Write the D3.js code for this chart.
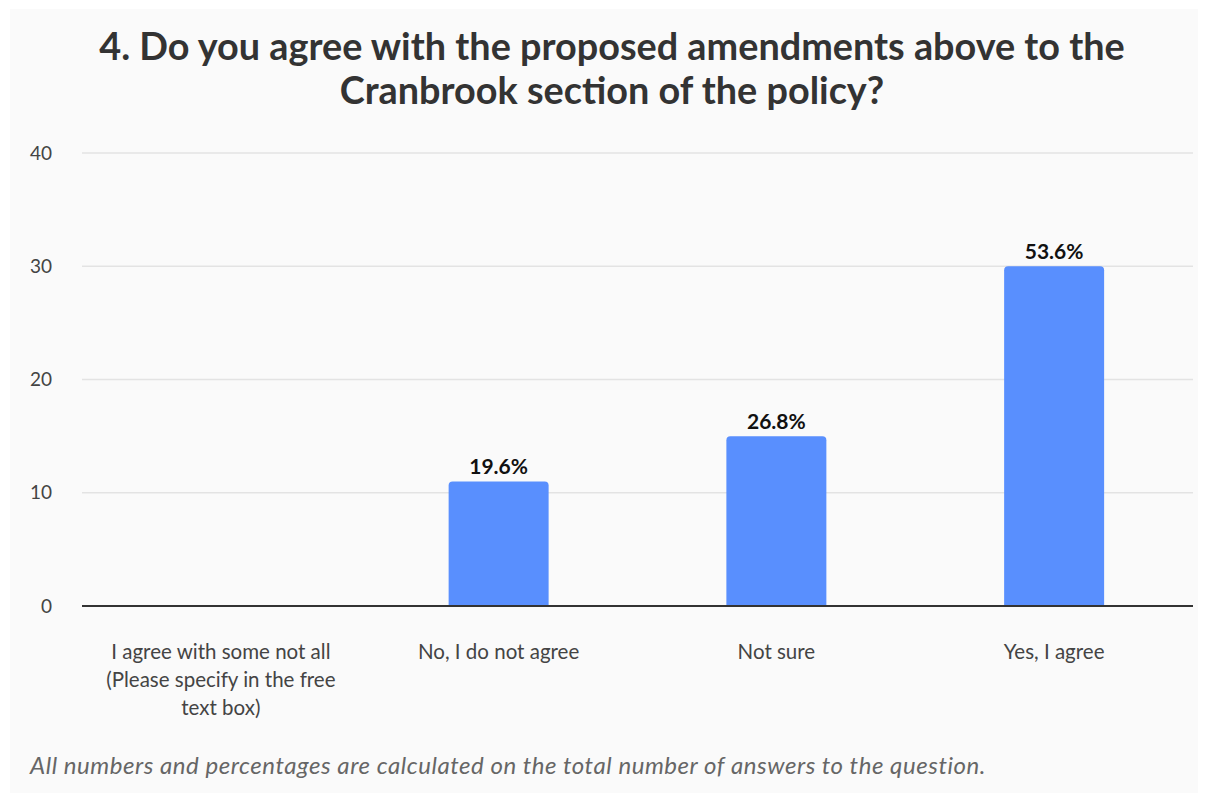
<!DOCTYPE html>
<html>
<head>
<meta charset="utf-8">
<script src="https://cdn.jsdelivr.net/npm/d3@7"></script>
<style>
  body { margin: 0; background: #ffffff; }
  svg { display: block; }
</style>
</head>
<body>
<div id="chart"></div>
<script>
// answers to the question
let categories = [
    "I agree with some not all (Please specify in the free text box)",
    "No, I do not agree",
    "Not sure",
    "Yes, I agree"
];
let counts = [0, 11, 15, 30];
let percentLabels = ["", "19.6%", "26.8%", "53.6%"];
let yTicks = [0, 10, 20, 30, 40];

let titleLines = [
    "4. Do you agree with the proposed amendments above to the",
    "Cranbrook section of the policy?"
];
let footnote = "All numbers and percentages are calculated on the total number of answers to the question.";

let width = 1208, height = 802;
let margin = {top: 153, right: 15, bottom: 196, left: 82};
let font = "Lato, 'Noto Sans', sans-serif";

let svg = d3.select("#chart").append("svg")
    .attr("width", width)
    .attr("height", height);

// grey panel behind everything
svg.append("rect")
    .attr("x", 10).attr("y", 9)
    .attr("width", 1188).attr("height", 784)
    .attr("fill", "#fafafa");

// Title
svg.append("text")
    .attr("text-anchor", "middle")
    .attr("font-family", font)
    .attr("font-weight", "bold")
    .attr("font-size", 37.8)
    .attr("fill", "#333333")
    .selectAll("tspan")
    .data(titleLines)
    .join("tspan")
    .attr("x", 612)
    .attr("y", (d, i) => 60 + i * 44)
    .text(d => d);

let x = d3.scaleBand()
    .domain(categories)
    .range([margin.left, width - margin.right])
    .paddingInner(0.64)
    .paddingOuter(0.32);

let y = d3.scaleLinear()
    .domain([0, 40])
    .range([height - margin.bottom, margin.top]);

// gridlines
svg.append("g")
    .selectAll("line")
    .data(yTicks.filter(d => d > 0))
    .join("line")
    .attr("x1", margin.left)
    .attr("x2", width - margin.right)
    .attr("y1", d => y(d))
    .attr("y2", d => y(d))
    .attr("stroke", "#e3e3e3")
    .attr("stroke-width", 1.5);

// y axis labels
let yAxis = svg.append("g")
    .attr("transform", "translate(" + margin.left + ",0)")
    .call(d3.axisLeft(y).tickValues(yTicks).tickSize(0).tickPadding(30));
yAxis.select(".domain").remove();
yAxis.selectAll("text")
    .attr("font-family", font)
    .attr("font-size", 19)
    .attr("fill", "#444444");

// bars with rounded tops
let r = 4;
function barPath(d, i)
{
    let x0 = x(categories[i]), w = x.bandwidth();
    let y0 = y(0), y1 = y(d);
    if (y0 - y1 < r) { return ""; }
    return "M" + x0 + "," + y0 +
        "V" + (y1 + r) +
        "Q" + x0 + "," + y1 + " " + (x0 + r) + "," + y1 +
        "H" + (x0 + w - r) +
        "Q" + (x0 + w) + "," + y1 + " " + (x0 + w) + "," + (y1 + r) +
        "V" + y0 + "Z";
}
svg.append("g")
    .selectAll("path")
    .data(counts)
    .join("path")
    .attr("d", barPath)
    .attr("fill", "#598ffe");

// value labels
svg.append("g")
    .selectAll("text")
    .data(counts)
    .join("text")
    .attr("x", (d, i) => x(categories[i]) + x.bandwidth() / 2)
    .attr("y", d => y(d) - 7)
    .attr("text-anchor", "middle")
    .attr("font-family", font)
    .attr("font-weight", "bold")
    .attr("font-size", 21)
    .attr("fill", "#111111")
    .text((d, i) => percentLabels[i]);

// baseline
svg.append("line")
    .attr("x1", margin.left)
    .attr("x2", width - margin.right)
    .attr("y1", y(0))
    .attr("y2", y(0))
    .attr("stroke", "#333333")
    .attr("stroke-width", 2);

// x axis labels, wrapped
let xAxis = svg.append("g")
    .attr("transform", "translate(0," + y(0) + ")")
    .call(d3.axisBottom(x).tickSize(0).tickPadding(38));
xAxis.select(".domain").remove();
xAxis.selectAll("text")
    .attr("font-family", font)
    .attr("font-size", 20.5)
    .attr("fill", "#444444")
    .call(wrap, 255);

function wrap(texts, maxWidth)
{
    texts.each(function()
    {
        let text = d3.select(this);
        let words = text.text().split(/\s+/);
        let yPos = text.attr("y");
        let dy = parseFloat(text.attr("dy"));
        text.text(null);
        let line = [];
        let lineNo = 0;
        let tspan = text.append("tspan").attr("x", 0).attr("y", yPos).attr("dy", dy + "em");
        words.forEach(word =>
        {
            line.push(word);
            tspan.text(line.join(" "));
            if (tspan.node().getComputedTextLength() > maxWidth && line.length > 1)
            {
                line.pop();
                tspan.text(line.join(" "));
                line = [word];
                lineNo++;
                tspan = text.append("tspan").attr("x", 0).attr("y", yPos)
                    .attr("dy", (dy + lineNo * 1.37) + "em").text(word);
            }
        });
    });
}

// footnote
svg.append("text")
    .attr("x", 30)
    .attr("y", 774)
    .attr("font-family", font)
    .attr("font-style", "italic")
    .attr("font-size", 24)
    .attr("letter-spacing", 0.55)
    .attr("fill", "#666666")
    .text(footnote);
</script>
</body>
</html>
